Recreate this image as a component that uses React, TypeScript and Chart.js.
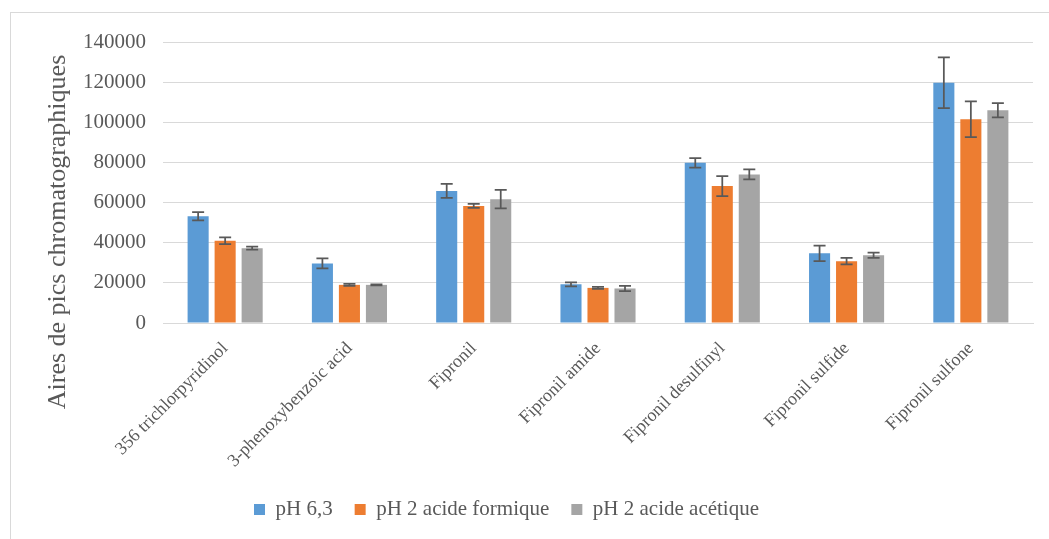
import React, { useEffect, useRef } from "react";
import { Chart, registerables } from "chart.js";

Chart.register(...registerables);

const categories = [
  "356 trichlorpyridinol",
  "3-phenoxybenzoic acid",
  "Fipronil",
  "Fipronil amide",
  "Fipronil desulfinyl",
  "Fipronil sulfide",
  "Fipronil sulfone",
];

const seriesNames = ["pH 6,3", "pH 2 acide formique", "pH 2 acide acétique"];

const ph63 = [53200, 29700, 65800, 19300, 79800, 34700, 119700];
const ph63Err = [2100, 2500, 3500, 1000, 2400, 3900, 12600];

const formique = [41000, 19000, 58300, 17500, 68200, 30800, 101500];
const formiqueErr = [1700, 500, 1000, 500, 5000, 1600, 8900];

const acetique = [37300, 19000, 61700, 17200, 74000, 33800, 106000];
const acetiqueErr = [800, 300, 4600, 1300, 2500, 1300, 3500];

const yTicks = [0, 20000, 40000, 60000, 80000, 100000, 120000, 140000];

const colors = ["#5B9BD5", "#ED7D31", "#A5A5A5"];
const textColor = "#595959";
const gridColor = "#D9D9D9";
const serif = "'Liberation Serif', 'Times New Roman', serif";

const errorBarsPlugin = {
  id: "errorBars",
  afterDatasetsDraw(chart: any) {
    const { ctx } = chart;
    const yScale = chart.scales.y;
    chart.data.datasets.forEach((ds: any, i: number) => {
      const meta = chart.getDatasetMeta(i);
      if (meta.hidden) return;
      const errs: number[] = ds.errors || [];
      meta.data.forEach((bar: any, j: number) => {
        const v = ds.data[j];
        const e = errs[j];
        if (e == null) return;
        const yTop = yScale.getPixelForValue(v + e);
        const yBot = yScale.getPixelForValue(v - e);
        const x = bar.x;
        const cap = 6;
        ctx.save();
        ctx.strokeStyle = "#595959";
        ctx.lineWidth = 1.75;
        ctx.beginPath();
        ctx.moveTo(x, yTop);
        ctx.lineTo(x, yBot);
        ctx.moveTo(x - cap, yTop);
        ctx.lineTo(x + cap, yTop);
        ctx.moveTo(x - cap, yBot);
        ctx.lineTo(x + cap, yBot);
        ctx.stroke();
        ctx.restore();
      });
    });
  },
};

const layoutTweaks = {
  id: "layoutTweaks",
  afterLayout(chart: any) {
    // Shift the y-axis title's centring span downward and the legend slightly left, as in the reference.
    const y = chart.scales.y;
    y.bottom += 99;
    if (chart.legend) {
      chart.legend.left -= 20;
    }
  },
};

export default function App() {
  const canvasRef = useRef<HTMLCanvasElement | null>(null);

  useEffect(() => {
    if (!canvasRef.current) return;
    const chart = new Chart(canvasRef.current, {
      type: "bar",
      data: {
        labels: categories,
        datasets: [
          { label: seriesNames[0], data: ph63, errors: ph63Err, backgroundColor: colors[0], borderWidth: 0 } as any,
          { label: seriesNames[1], data: formique, errors: formiqueErr, backgroundColor: colors[1], borderWidth: 0 } as any,
          { label: seriesNames[2], data: acetique, errors: acetiqueErr, backgroundColor: colors[2], borderWidth: 0 } as any,
        ],
      },
      options: {
        responsive: false,
        animation: false,
        devicePixelRatio: 1,
        categoryPercentage: 0.652,
        barPercentage: 0.78,
        layout: { padding: { left: 0, top: 42, right: 16, bottom: 9 } },
        plugins: {
          legend: {
            position: "bottom",
            labels: {
              boxWidth: 11,
              boxHeight: 11,
              padding: 22,
              color: textColor,
              font: { family: serif, size: 21 },
            },
          },
          tooltip: { enabled: false },
        },
        scales: {
          x: {
            grid: { display: false },
            border: { display: true, color: gridColor, width: 1 },
            ticks: {
              minRotation: 45,
              maxRotation: 45,
              padding: 7,
              color: textColor,
              font: { family: serif, size: 18 },
            },
            afterFit(scale: any) {
              scale.height = 154;
            },
          },
          y: {
            min: 0,
            max: 140000,
            afterBuildTicks(scale: any) {
              scale.ticks = yTicks.map((v) => ({ value: v }));
            },
            grid: { color: gridColor, lineWidth: 1, drawTicks: false },
            border: { display: false },
            ticks: {
              padding: 17,
              color: textColor,
              font: { family: serif, size: 21 },
              callback: (v: any) => String(v),
            },
            title: {
              display: true,
              text: "Aires de pics chromatographiques",
              color: textColor,
              font: { family: serif, size: 26 },
              padding: { top: 43, bottom: 0 },
            },
            afterFit(scale: any) {
              scale.width = 163;
            },
          },
        },
      } as any,
      plugins: [errorBarsPlugin, layoutTweaks],
    });
    return () => chart.destroy();
  }, []);

  return (
    <div
      style={{
        position: "fixed",
        left: 0,
        top: 0,
        width: 1049,
        height: 539,
        overflow: "hidden",
        background: "#FFFFFF",
      }}
    >
      <div
        style={{
          position: "absolute",
          left: 10,
          top: 12,
          width: 1100,
          height: 600,
          border: `1px solid ${gridColor}`,
        }}
      />
      <canvas
        ref={canvasRef}
        width={1049}
        height={539}
        style={{ position: "absolute", left: 0, top: 0, width: 1049, height: 539 }}
      />
    </div>
  );
}
